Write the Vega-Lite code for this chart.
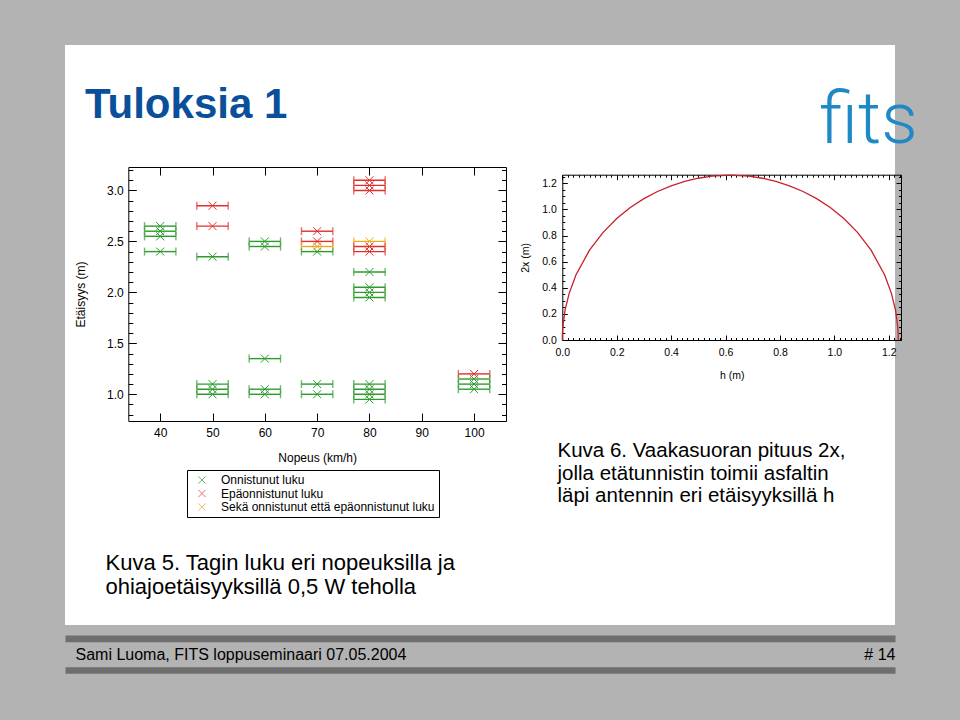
{
  "$schema": "https://vega.github.io/schema/vega-lite/v6.json",
  "width": 830,
  "height": 580,
  "autosize": {"type": "none"},
  "padding": {"left": 65, "top": 45, "right": 65, "bottom": 95},
  "background": "#b3b3b3",
  "view": {"fill": "white", "stroke": null},
  "title": {"text": "Tuloksia 1", "anchor": "start", "frame": "group", "offset": 0, "dx": 20, "dy": 115, "baseline": "alphabetic", "fontSize": 42, "fontWeight": "bold", "color": "#0a4f9a", "font": "Liberation Sans"},
  "config": {
    "font": "Liberation Sans",
    "axis": {"grid": false, "labelFont": "Liberation Sans", "titleFont": "Liberation Sans", "labelColor": "black", "titleColor": "black", "domainColor": "black", "tickColor": "black", "titleFontWeight": "normal", "labelFlush": false, "labelOverlap": false}
  },
  "datasets": {
    "tags": [
      {"speed": 40, "dist": 2.65, "kind": "Onnistunut luku", "err": 3},
      {"speed": 40, "dist": 2.6, "kind": "Onnistunut luku", "err": 3},
      {"speed": 40, "dist": 2.55, "kind": "Onnistunut luku", "err": 3},
      {"speed": 40, "dist": 2.4, "kind": "Onnistunut luku", "err": 3},
      {"speed": 50, "dist": 2.85, "kind": "Epäonnistunut luku", "err": 3},
      {"speed": 50, "dist": 2.65, "kind": "Epäonnistunut luku", "err": 3},
      {"speed": 50, "dist": 2.35, "kind": "Onnistunut luku", "err": 3},
      {"speed": 50, "dist": 1.1, "kind": "Onnistunut luku", "err": 3},
      {"speed": 50, "dist": 1.05, "kind": "Onnistunut luku", "err": 3},
      {"speed": 50, "dist": 1.0, "kind": "Onnistunut luku", "err": 3},
      {"speed": 60, "dist": 2.5, "kind": "Onnistunut luku", "err": 3},
      {"speed": 60, "dist": 2.45, "kind": "Onnistunut luku", "err": 3},
      {"speed": 60, "dist": 1.35, "kind": "Onnistunut luku", "err": 3},
      {"speed": 60, "dist": 1.05, "kind": "Onnistunut luku", "err": 3},
      {"speed": 60, "dist": 1.0, "kind": "Onnistunut luku", "err": 3},
      {"speed": 70, "dist": 2.6, "kind": "Epäonnistunut luku", "err": 3},
      {"speed": 70, "dist": 2.5, "kind": "Epäonnistunut luku", "err": 3},
      {"speed": 70, "dist": 2.45, "kind": "Sekä onnistunut että epäonnistunut luku", "err": 3},
      {"speed": 70, "dist": 2.4, "kind": "Onnistunut luku", "err": 3},
      {"speed": 70, "dist": 1.1, "kind": "Onnistunut luku", "err": 3},
      {"speed": 70, "dist": 1.0, "kind": "Onnistunut luku", "err": 3},
      {"speed": 80, "dist": 3.1, "kind": "Epäonnistunut luku", "err": 3},
      {"speed": 80, "dist": 3.05, "kind": "Epäonnistunut luku", "err": 3},
      {"speed": 80, "dist": 3.0, "kind": "Epäonnistunut luku", "err": 3},
      {"speed": 80, "dist": 2.5, "kind": "Sekä onnistunut että epäonnistunut luku", "err": 3},
      {"speed": 80, "dist": 2.45, "kind": "Epäonnistunut luku", "err": 3},
      {"speed": 80, "dist": 2.4, "kind": "Epäonnistunut luku", "err": 3},
      {"speed": 80, "dist": 2.2, "kind": "Onnistunut luku", "err": 3},
      {"speed": 80, "dist": 2.05, "kind": "Onnistunut luku", "err": 3},
      {"speed": 80, "dist": 2.0, "kind": "Onnistunut luku", "err": 3},
      {"speed": 80, "dist": 1.95, "kind": "Onnistunut luku", "err": 3},
      {"speed": 80, "dist": 1.1, "kind": "Onnistunut luku", "err": 3},
      {"speed": 80, "dist": 1.05, "kind": "Onnistunut luku", "err": 3},
      {"speed": 80, "dist": 1.0, "kind": "Onnistunut luku", "err": 3},
      {"speed": 80, "dist": 0.95, "kind": "Onnistunut luku", "err": 3},
      {"speed": 100, "dist": 1.2, "kind": "Epäonnistunut luku", "err": 3},
      {"speed": 100, "dist": 1.15, "kind": "Onnistunut luku", "err": 3},
      {"speed": 100, "dist": 1.1, "kind": "Onnistunut luku", "err": 3},
      {"speed": 100, "dist": 1.05, "kind": "Onnistunut luku", "err": 3}
    ],
    "curve": [
      {"h": 0, "w": 0},
      {"h": 0.0005, "w": 0.0508},
      {"h": 0.002, "w": 0.1015},
      {"h": 0.01, "w": 0.2262},
      {"h": 0.025, "w": 0.3555},
      {"h": 0.05, "w": 0.4975},
      {"h": 0.1, "w": 0.6885},
      {"h": 0.15, "w": 0.8245},
      {"h": 0.2, "w": 0.9298},
      {"h": 0.25, "w": 1.0142},
      {"h": 0.3, "w": 1.0824},
      {"h": 0.35, "w": 1.1374},
      {"h": 0.4, "w": 1.1811},
      {"h": 0.45, "w": 1.2147},
      {"h": 0.5, "w": 1.2389},
      {"h": 0.55, "w": 1.2544},
      {"h": 0.6, "w": 1.2615},
      {"h": 0.6175, "w": 1.262},
      {"h": 0.635, "w": 1.2615},
      {"h": 0.685, "w": 1.2544},
      {"h": 0.735, "w": 1.2389},
      {"h": 0.785, "w": 1.2147},
      {"h": 0.835, "w": 1.1811},
      {"h": 0.885, "w": 1.1374},
      {"h": 0.935, "w": 1.0824},
      {"h": 0.985, "w": 1.0142},
      {"h": 1.035, "w": 0.9298},
      {"h": 1.085, "w": 0.8245},
      {"h": 1.135, "w": 0.6885},
      {"h": 1.185, "w": 0.4975},
      {"h": 1.21, "w": 0.3555},
      {"h": 1.225, "w": 0.2262},
      {"h": 1.233, "w": 0.1015},
      {"h": 1.2345, "w": 0.0508},
      {"h": 1.235, "w": 0}
    ]
  },
  "resolve": {"scale": {"x": "independent", "y": "independent"}, "axis": {"x": "independent", "y": "independent"}},
  "layer": [
    {
      "data": {"name": "tags"},
      "mark": {"type": "errorbar", "ticks": true, "size": 8, "thickness": 1.4},
      "encoding": {
        "x": {"field": "speed", "type": "quantitative",
          "scale": {"domain": [33.9, 106.1], "range": [63.3, 441], "nice": false, "zero": false},
          "axis": {"orient": "bottom", "offset": -204, "values": [40, 50, 60, 70, 80, 90, 100], "tickSize": -8, "labelPadding": 14, "labelFontSize": 12, "title": "Nopeus (km/h)", "titleFontSize": 12, "titlePadding": 14}},
        "xError": {"field": "err"},
        "y": {"field": "dist", "type": "quantitative",
          "scale": {"domain": [0.738, 3.23], "range": [376, 122], "nice": false, "zero": false},
          "axis": {"orient": "left", "offset": -63.3,
            "values": [0.8, 0.9, 1.0, 1.1, 1.2, 1.3, 1.4, 1.5, 1.6, 1.7, 1.8, 1.9, 2.0, 2.1, 2.2, 2.3, 2.4, 2.5, 2.6, 2.7, 2.8, 2.9, 3.0, 3.1, 3.2],
            "tickSize": {"condition": {"test": "abs(datum.value*2 - round(datum.value*2)) < 0.001", "value": -8}, "value": -4.5},
            "labelExpr": "abs(datum.value*2 - round(datum.value*2)) < 0.001 ? format(datum.value, '.1f') : ''",
            "labelPadding": 13, "labelFontSize": 12, "title": "Etäisyys (m)", "titleFontSize": 12, "titlePadding": 19}},
        "color": {"field": "kind", "type": "nominal",
          "scale": {"domain": ["Onnistunut luku", "Epäonnistunut luku", "Sekä onnistunut että epäonnistunut luku"], "range": ["#2e9b2e", "#e0302c", "#f2a81d"]}}
      }
    },
    {
      "data": {"name": "tags"},
      "transform": [{"filter": {"field": "kind", "equal": "Onnistunut luku"}}],
      "mark": {"type": "point", "shape": "M-1,-1L1,1M1,-1L-1,1", "size": 64, "filled": false, "strokeWidth": 1, "opacity": 1},
      "encoding": {
        "x": {"field": "speed", "type": "quantitative",
          "scale": {"domain": [33.9, 106.1], "range": [63.3, 441], "nice": false, "zero": false},
          "axis": {"orient": "top", "offset": -122, "values": [40, 50, 60, 70, 80, 90, 100], "tickSize": -8, "labels": false, "title": null}},
        "y": {"field": "dist", "type": "quantitative",
          "scale": {"domain": [0.738, 3.23], "range": [376, 122], "nice": false, "zero": false},
          "axis": {"orient": "right", "offset": -389,
            "values": [0.8, 0.9, 1.0, 1.1, 1.2, 1.3, 1.4, 1.5, 1.6, 1.7, 1.8, 1.9, 2.0, 2.1, 2.2, 2.3, 2.4, 2.5, 2.6, 2.7, 2.8, 2.9, 3.0, 3.1, 3.2],
            "tickSize": {"condition": {"test": "abs(datum.value*2 - round(datum.value*2)) < 0.001", "value": -8}, "value": -4.5},
            "labels": false, "title": null}},
        "color": {"field": "kind", "type": "nominal",
          "scale": {"domain": ["Onnistunut luku", "Epäonnistunut luku", "Sekä onnistunut että epäonnistunut luku"], "range": ["#2e9b2e", "#e0302c", "#f2a81d"]},
          "legend": {"orient": "none", "legendX": 122, "legendY": 425, "title": null, "strokeColor": "black", "padding": 4, "symbolOffset": 5, "symbolType": "M-1,-1L1,1M1,-1L-1,1", "symbolSize": 50, "symbolStrokeWidth": 1, "symbolFillColor": "transparent", "symbolOpacity": 0.6, "labelOffset": 13, "labelFontSize": 12, "labelFont": "Liberation Sans", "labelColor": "black", "labelLimit": 400, "rowPadding": 1.5}}
      }
    },
    {
      "data": {"name": "tags"},
      "transform": [{"filter": {"field": "kind", "equal": "Epäonnistunut luku"}}],
      "mark": {"type": "point", "shape": "M-1,-1L1,1M1,-1L-1,1", "size": 64, "filled": false, "strokeWidth": 1, "opacity": 1},
      "encoding": {
        "x": {"field": "speed", "type": "quantitative",
          "scale": {"domain": [21.8, 180.46], "nice": false, "zero": false},
          "axis": {"orient": "bottom", "offset": 13.3, "domainColor": "#6e6e6e", "domainWidth": 6.7, "ticks": false, "labels": false,
            "title": "Sami Luoma, FITS loppuseminaari 07.05.2004", "titleX": 10, "titleY": 21, "titleAlign": "left", "titleBaseline": "alphabetic", "titleFontSize": 16}},
        "y": {"field": "dist", "type": "quantitative",
          "scale": {"domain": [0.738, 3.23], "range": [376, 122], "nice": false, "zero": false},
          "axis": {"orient": "right", "offset": 0, "domain": false, "ticks": false, "labels": false,
            "title": "# 14", "titleAngle": 0, "titleX": 0, "titleY": 614, "titleAlign": "right", "titleBaseline": "alphabetic", "titleFontSize": 16}},
        "color": {"field": "kind", "type": "nominal"}
      }
    },
    {
      "data": {"name": "tags"},
      "transform": [{"filter": {"field": "kind", "equal": "Sekä onnistunut että epäonnistunut luku"}}],
      "mark": {"type": "point", "shape": "M-1,-1L1,1M1,-1L-1,1", "size": 64, "filled": false, "strokeWidth": 1, "opacity": 1},
      "encoding": {
        "x": {"field": "speed", "type": "quantitative",
          "scale": {"domain": [21.8, 180.46], "nice": false, "zero": false},
          "axis": {"orient": "bottom", "offset": 45, "domainColor": "#6e6e6e", "domainWidth": 6.7, "ticks": false, "labels": false, "title": null}},
        "y": {"field": "dist", "type": "quantitative",
          "scale": {"domain": [0.738, 3.23], "range": [376, 122], "nice": false, "zero": false},
          "axis": {"orient": "left", "offset": 0, "domain": false, "ticks": false, "labels": false,
            "title": ["Kuva 5. Tagin luku eri nopeuksilla ja", "ohiajoetäisyyksillä 0,5 W teholla"], "titleAngle": 0, "titleX": 40, "titleY": 524, "titleAlign": "left", "titleBaseline": "alphabetic", "titleFontSize": 22, "titleLineHeight": 24}},
        "color": {"field": "kind", "type": "nominal"}
      }
    },
    {
      "data": {"name": "curve"},
      "transform": [{"filter": "datum.h <= 0.6175"}],
      "mark": {"type": "line", "color": "#c8202a", "strokeWidth": 1.3},
      "encoding": {
        "x": {"field": "h", "type": "quantitative",
          "scale": {"domain": [0, 1.245], "range": [497.3, 836], "nice": false, "zero": false},
          "axis": {"orient": "bottom", "offset": -285,
            "values": [0, 0.02, 0.04, 0.06, 0.08, 0.1, 0.12, 0.14, 0.16, 0.18, 0.2, 0.22, 0.24, 0.26, 0.28, 0.3, 0.32, 0.34, 0.36, 0.38, 0.4, 0.42, 0.44, 0.46, 0.48, 0.5, 0.52, 0.54, 0.56, 0.58, 0.6, 0.62, 0.64, 0.66, 0.68, 0.7, 0.72, 0.74, 0.76, 0.78, 0.8, 0.82, 0.84, 0.86, 0.88, 0.9, 0.92, 0.94, 0.96, 0.98, 1.0, 1.02, 1.04, 1.06, 1.08, 1.1, 1.12, 1.14, 1.16, 1.18, 1.2, 1.22, 1.24],
            "tickSize": {"condition": {"test": "abs(datum.value*5 - round(datum.value*5)) < 0.001", "value": -5}, "value": -2.5},
            "labelExpr": "abs(datum.value*5 - round(datum.value*5)) < 0.001 ? format(datum.value, '.1f') : ''",
            "labelPadding": 12, "labelFontSize": 10.5, "title": "h (m)", "titleFontSize": 10.5, "titlePadding": 10}},
        "y": {"field": "w", "type": "quantitative",
          "scale": {"domain": [0, 1.266], "range": [295, 129.7], "nice": false, "zero": false},
          "axis": {"orient": "left", "offset": -497.3,
            "values": [0, 0.05, 0.1, 0.15, 0.2, 0.25, 0.3, 0.35, 0.4, 0.45, 0.5, 0.55, 0.6, 0.65, 0.7, 0.75, 0.8, 0.85, 0.9, 0.95, 1.0, 1.05, 1.1, 1.15, 1.2, 1.25],
            "tickSize": {"condition": {"test": "abs(datum.value*5 - round(datum.value*5)) < 0.001", "value": -5}, "value": -2.5},
            "labelExpr": "abs(datum.value*5 - round(datum.value*5)) < 0.001 ? format(datum.value, '.1f') : ''",
            "labelPadding": 11, "labelFontSize": 10.5, "title": "2x (m)", "titleFontSize": 10.5, "titlePadding": 11}}
      }
    },
    {
      "data": {"name": "curve"},
      "transform": [{"filter": "datum.h >= 0.6175"}],
      "mark": {"type": "line", "color": "#c8202a", "strokeWidth": 1.3},
      "encoding": {
        "x": {"field": "h", "type": "quantitative",
          "scale": {"domain": [0, 1.245], "range": [497.3, 836], "nice": false, "zero": false},
          "axis": {"orient": "top", "offset": -129.7,
            "values": [0, 0.02, 0.04, 0.06, 0.08, 0.1, 0.12, 0.14, 0.16, 0.18, 0.2, 0.22, 0.24, 0.26, 0.28, 0.3, 0.32, 0.34, 0.36, 0.38, 0.4, 0.42, 0.44, 0.46, 0.48, 0.5, 0.52, 0.54, 0.56, 0.58, 0.6, 0.62, 0.64, 0.66, 0.68, 0.7, 0.72, 0.74, 0.76, 0.78, 0.8, 0.82, 0.84, 0.86, 0.88, 0.9, 0.92, 0.94, 0.96, 0.98, 1.0, 1.02, 1.04, 1.06, 1.08, 1.1, 1.12, 1.14, 1.16, 1.18, 1.2, 1.22, 1.24],
            "tickSize": {"condition": {"test": "abs(datum.value*5 - round(datum.value*5)) < 0.001", "value": -5}, "value": -2.5},
            "labels": false,
            "title": ["Kuva 6. Vaakasuoran pituus 2x,", "jolla etätunnistin toimii asfaltin", "läpi antennin eri etäisyyksillä h"], "titleX": 492, "titleY": 282, "titleAlign": "left", "titleBaseline": "alphabetic", "titleAngle": 0, "titleFontSize": 20.5, "titleLineHeight": 22.5}},
        "y": {"field": "w", "type": "quantitative",
          "scale": {"domain": [0, 1.266], "range": [295, 129.7], "nice": false, "zero": false},
          "axis": {"orient": "right", "offset": 6,
            "values": [0, 0.05, 0.1, 0.15, 0.2, 0.25, 0.3, 0.35, 0.4, 0.45, 0.5, 0.55, 0.6, 0.65, 0.7, 0.75, 0.8, 0.85, 0.9, 0.95, 1.0, 1.05, 1.1, 1.15, 1.2, 1.25],
            "tickSize": {"condition": {"test": "abs(datum.value*5 - round(datum.value*5)) < 0.001", "value": -5}, "value": -2.5},
            "labels": false,
            "title": "fits", "titleAngle": 0, "titleX": -33, "titleY": 97, "titleAlign": "center", "titleBaseline": "alphabetic", "titleFont": "Roboto", "titleFontWeight": 300, "titleFontSize": 72, "titleColor": "#1f89c6"}}
      }
    }
  ]
}
